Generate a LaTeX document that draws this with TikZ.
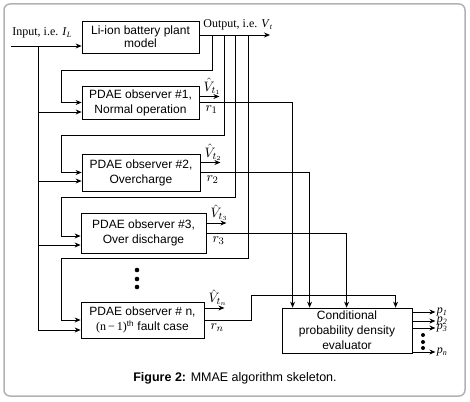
\documentclass[tikz,border=0pt]{standalone}
\usepackage{fontspec}
\setmainfont{Liberation Sans}
\newfontfamily\timesfont{Liberation Serif}
\usepackage{tikz}
\usetikzlibrary{arrows.meta}

\tikzset{
  blk/.style={draw,align=center,inner sep=1pt,font=\fontsize{12}{15}\selectfont},
  lbl/.style={inner sep=1pt,font=\timesfont\fontsize{12}{14}\selectfont},
  sig/.style={inner sep=0.5pt,scale=1.25,font=\fontsize{11}{13}\selectfont},
}

\begin{document}
\begin{tikzpicture}[x=1pt,y=-1pt,line width=0.8pt,>={Stealth[length=6pt,width=5pt]}]
\useasboundingbox (0,0) rectangle (470,401);
\draw[black!30,line width=1.5pt,rounded corners=6pt](4,4) rectangle (465,396);

% blocks
\node[blk,minimum width=117pt,minimum height=32pt,font=\fontsize{12}{13}\selectfont] (plant) at (140.5,37) {Li-ion battery plant\\model};
\node[blk,minimum width=117pt,minimum height=33pt] (obs1) at (140.5,102.5) {PDAE observer \#1,\\Normal operation};
\node[blk,minimum width=118pt,minimum height=37pt] (obs2) at (141,172.5) {PDAE observer \#2,\\Overcharge};
\node[blk,minimum width=125pt,minimum height=40pt] (obs3) at (143.5,233) {PDAE observer \#3,\\Over discharge};
\node[blk,minimum width=123pt,minimum height=36pt] (obsn) at (142.5,320) {PDAE observer \# n,\\{\timesfont(n\,−\,1)}\textsuperscript{th} fault case};
\node[blk,minimum width=130pt,minimum height=45pt] (eval) at (347,330.5) {Conditional\\probability density\\evaluator};

% input and its bus
\coordinate (in) at (11,46);
\coordinate (bus) at (38,46);
\node[lbl,anchor=base west] (inlbl) at (11,36) {Input, i.e. \textit{I}\textsubscript{\textit{L}}};
\draw[->](in)--(in -| plant.west);
\draw[->](bus)|-([yshift=-10pt]obsn.west);
\draw[->](bus |- 0,112)--([yshift=-9.5pt]obs1.west);
\draw[->](bus |- 0,181)--([yshift=-8.5pt]obs2.west);
\draw[->](bus |- 0,245)--([yshift=-12pt]obs3.west);

% plant output and feedback to the observers
\coordinate (o) at ([yshift=2pt]plant.east);
\coordinate (vt) at (270,35);
\node[lbl,anchor=base west] (outlbl) at (202,28) {Output, i.e. \textit{V}\textsubscript{\textit{t}}};
\draw[->](o)--(vt);
\coordinate (t1) at (212,35);
\coordinate (t2) at (224,35);
\coordinate (t3) at (235,35);
\coordinate (t4) at (248,35);
\draw[->](t1)|-(61,70)|-(obs1.west);
\draw[->](t2)|-(61,135)|-(obs2.west);
\draw[->](t3)|-(61,197)|-([yshift=-3pt]obs3.west);
\draw[->](t4)|-(61,258)|-(obsn.west);

% estimates
\draw[->]([yshift=6pt]obs1.east)--++(20,0)coordinate(v1);
\draw[->]([yshift=10pt]obs2.east)--++(20,0)coordinate(v2);
\draw[->]([yshift=10pt]obs3.east)--++(20,0)coordinate(v3);
\draw[->]([yshift=12pt]obsn.east)--++(20,0)coordinate(vn);
\node[sig,anchor=south west] at ([xshift=3pt,yshift=7pt]obs1.east) {$\hat{V}_{t_1}$};
\node[sig,anchor=south west] at ([xshift=3pt,yshift=11pt]obs2.east) {$\hat{V}_{t_2}$};
\node[sig,anchor=south west] at ([xshift=3pt,yshift=11pt]obs3.east) {$\hat{V}_{t_3}$};
\node[sig,anchor=south west] at ([xshift=3pt,yshift=13pt]obsn.east) {$\hat{V}_{t_n}$};

% residuals
\draw[->](obs1.east)-|([xshift=11pt]eval.north west);
\draw[->](obs2.east)-|([xshift=28pt]eval.north west);
\draw[->](obs3.east)-|([xshift=65pt]eval.north west);
\draw[->](obsn.east)-|(251,295)-|([xshift=114pt]eval.north west);
\node[sig,anchor=north west] at ([xshift=5pt,yshift=-2pt]obs1.east) {$r_1$};
\node[sig,anchor=north west] at ([xshift=5pt,yshift=-2pt]obs2.east) {$r_2$};
\node[sig,anchor=north west] at ([xshift=5pt,yshift=-2pt]obs3.east) {$r_3$};
\node[sig,anchor=north west] at ([xshift=5pt,yshift=-2pt]obsn.east) {$r_n$};

\fill(137,270)circle(2.3) (137,279)circle(2.3) (137,287)circle(2.3);

% probabilities
\draw[->]([yshift=18.5pt]eval.east)--++(23,0)node[lbl,right]{\textit{p}\textsubscript{\textit{1}}};
\draw[->]([yshift=9.5pt]eval.east)--++(23,0)node[lbl,right]{\textit{p}\textsubscript{\textit{2}}};
\draw[->]([yshift=2.5pt]eval.east)--++(23,0)node[lbl,right]{\textit{p}\textsubscript{\textit{3}}};
\draw[->]([yshift=-21.5pt]eval.east)--++(23,0)node[lbl,right]{\textit{p}\textsubscript{\textit{n}}};
\fill(423,335)circle(2) (423,342)circle(2) (423,348)circle(2);

\node[font=\fontsize{12.5}{14}\selectfont] (cap) at (235,378) {\textbf{Figure 2:} MMAE algorithm skeleton.};
\end{tikzpicture}
\end{document}
